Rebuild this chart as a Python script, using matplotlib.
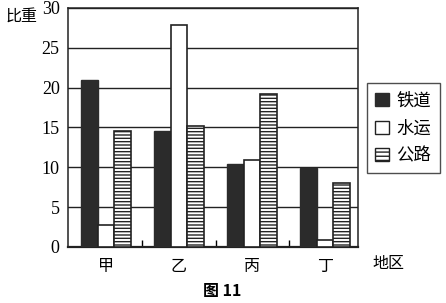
import numpy as np
import matplotlib.pyplot as plt
from matplotlib.patches import Patch

plt.rcParams['font.family'] = ['Noto Sans CJK SC', 'DejaVu Sans']
plt.rcParams['hatch.linewidth'] = 1.0

regions = ["甲", "乙", "丙", "丁"]
rail = [21, 14.5, 10.4, 9.9]
water = [2.8, 27.8, 10.9, 0.9]
road = [14.6, 15.2, 19.2, 8.0]
yticks = [0, 5, 10, 15, 20, 25, 30]

fig = plt.figure(figsize=(4.46, 3.03), dpi=100)
ax = fig.add_axes([0.1525, 0.185, 0.65, 0.789])

x = np.arange(len(regions))
w = 0.225
ax.bar(x - w, rail, w, color="#2b2b2b", edgecolor="#2b2b2b", linewidth=1, zorder=3)
ax.bar(x, water, w, color="white", edgecolor="#222222", linewidth=1.2, zorder=3)
ax.bar(x + w, road, w, color="white", edgecolor="#222222", linewidth=1.2,
       hatch="-----", zorder=3)

ax.set_xlim(-0.52, 3.45)
ax.set_ylim(0, 30)
ax.set_yticks(yticks)
ax.set_yticklabels([str(v) for v in yticks], family="Liberation Serif", fontsize=13)
ax.yaxis.grid(True, color="#222222", linewidth=1.0, zorder=0)
ax.tick_params(axis="y", length=0, pad=6)

ax.set_xticks(x)
ax.set_xticklabels(regions, fontsize=11.5)
ax.tick_params(axis="x", length=0, pad=8)
ax.set_xticks([0.5, 1.5, 2.5], minor=True)
ax.tick_params(axis="x", which="minor", direction="in", length=5, width=1)

for s in ax.spines.values():
    s.set_color("#222222")
    s.set_linewidth(1.1)
ax.spines["bottom"].set_linewidth(1.6)

handles = [
    Patch(facecolor="#2b2b2b", edgecolor="#2b2b2b", label="铁道"),
    Patch(facecolor="white", edgecolor="#222222", label="水运"),
    Patch(facecolor="white", edgecolor="#222222", hatch="----", label="公路"),
]
leg = fig.legend(handles=handles, loc="upper left", bbox_to_anchor=(0.822, 0.726),
                 fontsize=12.5, frameon=True, fancybox=False, edgecolor="#222222",
                 handlelength=0.8, handleheight=0.8, handletextpad=0.4,
                 borderpad=0.5, labelspacing=0.55, borderaxespad=0)
leg.get_frame().set_linewidth(1.0)

fig.text(0.012, 0.945, "比重", fontsize=11.5, va="center", ha="left")
fig.text(0.835, 0.13, "地区", fontsize=11.5, va="center", ha="left")
fig.text(0.455, 0.04, "图 11", fontsize=11.5, va="center", ha="left", weight="bold")

fig.savefig("out.png", dpi=100)
